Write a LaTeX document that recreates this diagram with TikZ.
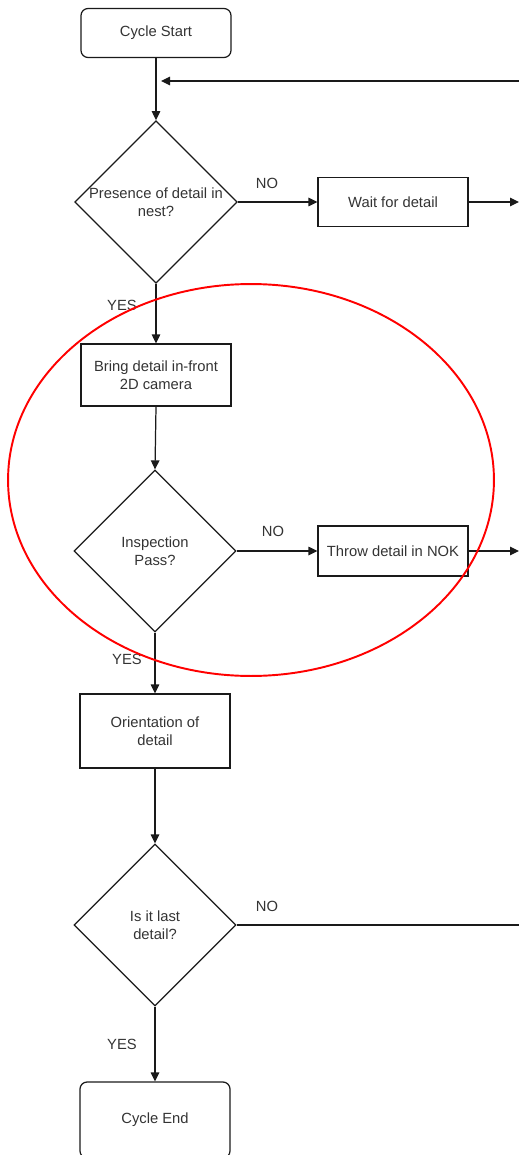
\documentclass[tikz,border=0pt]{standalone}
\usepackage{fontspec}
\setmainfont{Liberation Sans}
\usetikzlibrary{shapes.geometric,arrows.meta}
\definecolor{ln}{HTML}{1A1A1A}
\definecolor{txt}{HTML}{333333}
\definecolor{hl}{HTML}{FF0000}
\begin{document}
\begin{tikzpicture}[x=0.02cm,y=-0.02cm,
  every node/.style={font=\fontsize{8.4}{10.2}\selectfont, text=txt},
  box/.style={draw=ln, line width=0.7pt, minimum width=3cm, align=center, inner sep=0pt},
  term/.style={box, rounded corners=0.14cm},
  dec/.style={draw=ln, line width=0.7pt, diamond, aspect=1, minimum width=3.24cm, minimum height=3.24cm, inner sep=0pt, align=center},
  conn/.style={draw=ln, line width=0.7pt, -{Triangle[length=0.18cm,width=0.17cm]}},
  plain/.style={draw=ln, line width=0.7pt},
  lbl/.style={inner sep=0pt}
]
\clip (0,0) rectangle (519,1155);
% nodes
\node[term, minimum height=0.98cm] (start) at (156,33) {\raisebox{-1pt}{Cycle Start}};
\node[dec] (d1) at (156,202) {Presence of detail in\\nest?};
\node[box, minimum height=0.98cm] (wait) at (393,202) {Wait for detail};
\node[box, minimum height=1.24cm] (bring) at (156,375) {Bring detail in-front\\2D camera};
\node[dec] (d2) at (155,551) {Inspection\\Pass?};
\node[box, minimum height=1.0cm] (throw) at (393,551) {Throw detail in NOK};
\node[box, minimum height=1.48cm] (orient) at (155,731) {Orientation of\\detail};
\node[dec] (d3) at (155,925) {Is it last\\detail?};
\node[term, minimum height=1.52cm] (end) at (155,1120) {Cycle End};
% free ends
\coordinate (loopin) at (519,81);
\coordinate (looptip) at (161,81);
\coordinate (waitout) at (519,202);
\coordinate (throwout) at (519,551);
\coordinate (lastout) at (519,925);
% connectors
\draw[conn] (start.south) -- (d1.north);
\draw[conn] (loopin) -- (looptip);
\draw[conn] (d1.east) -- (wait.west);
\draw[conn] (wait.east) -- (waitout);
\draw[conn] (d1.south) -- (bring.north);
\draw[conn] (bring.south) -- (d2.north);
\draw[conn] (d2.east) -- (throw.west);
\draw[conn] (throw.east) -- (throwout);
\draw[conn] (d2.south) -- (orient.north);
\draw[conn] (orient.south) -- (d3.north);
\draw[plain] (d3.east) -- (lastout);
\draw[conn] (d3.south) -- (end.north);
% labels
\node[lbl] (no1) at (267,183) {NO};
\node[lbl] (yes1) at (122,305) {YES};
\node[lbl] (no2) at (273,531) {NO};
\node[lbl] (yes2) at (127,659) {YES};
\node[lbl] (no3) at (267,906) {NO};
\node[lbl] (yes3) at (122,1044) {YES};
% highlight ellipse
\draw[hl, line width=1.1pt] (251,480) ellipse [x radius=4.86cm, y radius=3.92cm];
\end{tikzpicture}
\end{document}
